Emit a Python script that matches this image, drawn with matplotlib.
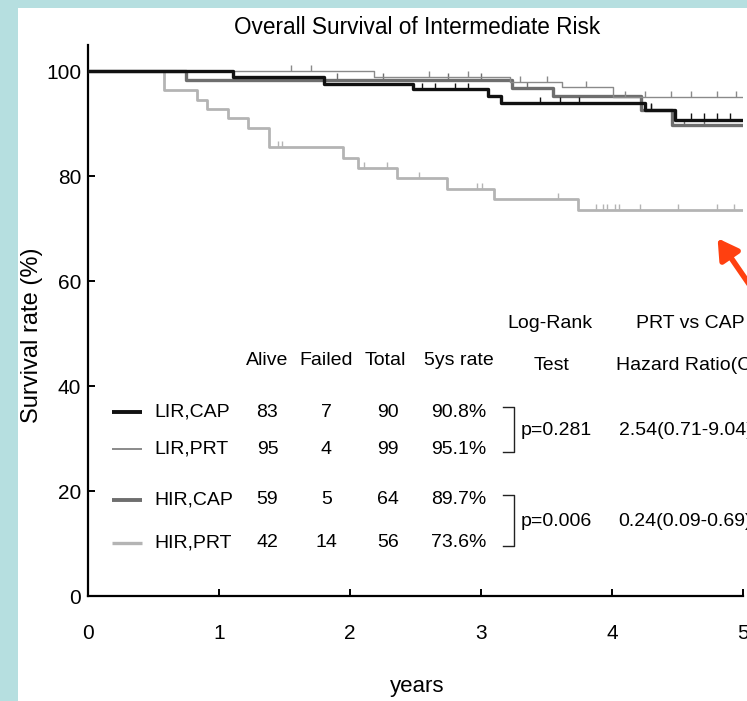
import numpy as np
import matplotlib
matplotlib.use("Agg")
import matplotlib.pyplot as plt
from matplotlib.patches import Rectangle, FancyArrowPatch

plt.rcParams['font.family'] = ['Liberation Sans', 'DejaVu Sans']

# Kaplan-Meier steps (time in years, survival %)
lir_cap_t = [0, 1.11, 1.80, 2.48, 3.05, 3.15, 4.25, 4.48, 5]
lir_cap_s = [100, 98.9, 97.5, 96.6, 95.3, 94.0, 92.7, 90.8, 90.8]
lir_prt_t = [0, 2.18, 3.22, 3.62, 4.01, 5]
lir_prt_s = [100, 98.9, 98.0, 97.0, 95.1, 95.1]
hir_cap_t = [0, 0.75, 3.24, 3.55, 4.22, 4.46, 5]
hir_cap_s = [100, 98.4, 96.8, 95.2, 92.6, 89.7, 89.7]
hir_prt_t = [0, 0.58, 0.83, 0.91, 1.07, 1.22, 1.38, 1.95, 2.06, 2.36, 2.74, 3.10, 3.74, 5]
hir_prt_s = [100, 96.4, 94.6, 92.8, 91.0, 89.2, 85.6, 83.4, 81.6, 79.6, 77.6, 75.7, 73.6, 73.6]

# censoring marks
lir_cap_c = [2.55, 2.65, 2.8, 2.9, 3.45, 3.6, 3.75, 4.3, 4.6, 4.7, 4.8, 4.9]
lir_prt_c = [1.55, 1.7, 2.6, 2.9, 3.3, 3.5, 3.8, 4.1, 4.25, 4.45, 4.6, 4.8, 4.95]
hir_cap_c = [1.9, 2.25, 2.75, 3.0, 3.35, 4.3, 4.55, 4.7]
hir_prt_c = [1.45, 1.48, 2.11, 2.28, 2.53, 2.97, 3.01, 3.59, 3.88, 3.93, 3.96,
             4.02, 4.05, 4.21, 4.50, 4.80, 4.93]

groups = ["LIR,CAP", "LIR,PRT", "HIR,CAP", "HIR,PRT"]
alive = [83, 95, 59, 42]
failed = [7, 4, 5, 14]
total = [90, 99, 64, 56]
rate5 = ["90.8%", "95.1%", "89.7%", "73.6%"]
p_values = ["p=0.281", "p=0.006"]
hazard = ["2.54(0.71-9.04)", "0.24(0.09-0.69)"]

colors = ["#111111", "#8a8a8a", "#6e6e6e", "#b4b4b4"]
widths = [2.4, 1.0, 2.4, 2.0]

fig = plt.figure(figsize=(7.47, 7.01), dpi=100, facecolor="#b6dfe0")
bg = Rectangle((18 / 747, 0), 1, 1 - 8 / 701, transform=fig.transFigure,
               facecolor="white", edgecolor="none", zorder=-10)
fig.patches.append(bg)
ax = fig.add_axes([88 / 747, 105 / 701, 655 / 747, 551 / 701])
ax.set_facecolor("none")

curves = [(lir_cap_t, lir_cap_s, lir_cap_c), (lir_prt_t, lir_prt_s, lir_prt_c),
          (hir_cap_t, hir_cap_s, hir_cap_c), (hir_prt_t, hir_prt_s, hir_prt_c)]
for i in [3, 2, 1, 0]:
    t, s, c = curves[i]
    ax.step(t, s, where="post", color=colors[i], lw=widths[i], zorder=3 + (3 - i))
    idx = np.searchsorted(t, c, side="right") - 1
    cy = np.array(s)[idx]
    ax.plot(c, cy + 0.6, ls="none", marker="|", ms=5, mew=1.0, color=colors[i],
            zorder=3 + (3 - i))

ax.set_xlim(0, 5)
ax.set_ylim(0, 105)
ax.set_xticks([0, 1, 2, 3, 4, 5])
ax.set_yticks([0, 20, 40, 60, 80, 100])
for s in ["top", "right"]:
    ax.spines[s].set_visible(False)
for s in ["left", "bottom"]:
    ax.spines[s].set_linewidth(1.6)
ax.tick_params(direction="in", length=5, width=1.4, labelsize=15)
ax.tick_params(axis="x", pad=20)
ax.tick_params(axis="y", pad=5)
ax.set_xlabel("years", fontsize=16)
ax.xaxis.set_label_coords(0.502, -0.145)
ax.set_ylabel("Survival rate (%)", fontsize=17)
ax.yaxis.set_label_coords(-0.068, 0.474)

fig.text(417 / 747, 1 - 27 / 701, "Overall Survival of Intermediate Risk",
         ha="center", va="center", fontsize=16.3)

# table inside plot
fs = 14
ax.text(3.53, 52.0, "Log-Rank", ha="center", va="center", fontsize=fs)
ax.text(3.54, 44.0, "Test", ha="center", va="center", fontsize=fs)
ax.text(4.60, 52.0, "PRT vs CAP", ha="center", va="center", fontsize=fs)
ax.text(4.03, 44.0, "Hazard Ratio(CI)", ha="left", va="center", fontsize=fs)
head_x = [1.37, 1.82, 2.27, 2.83]
for hx, h in zip(head_x, ["Alive", "Failed", "Total", "5ys rate"]):
    ax.text(hx, 44.8, h, ha="center", va="center", fontsize=fs)

row_y = [35.0, 28.0, 18.3, 10.1]
for i, g in enumerate(groups):
    y = row_y[i]
    ax.plot([0.18, 0.41], [y, y], color=colors[i], lw=widths[i] + 0.4,
            solid_capstyle="butt", clip_on=False)
    ax.text(0.51, y, g, ha="left", va="center", fontsize=fs)
    ax.text(1.37, y, str(alive[i]), ha="center", va="center", fontsize=fs)
    ax.text(1.82, y, str(failed[i]), ha="center", va="center", fontsize=fs)
    ax.text(2.29, y, str(total[i]), ha="center", va="center", fontsize=fs)
    ax.text(2.83, y, rate5[i], ha="center", va="center", fontsize=fs)

for k in range(2):
    top = row_y[2 * k] + 1.0
    bot = row_y[2 * k + 1] - 0.6
    ax.plot([3.17, 3.25, 3.25, 3.17], [top, top, bot, bot], color="#222222", lw=1.0)
    mid = (row_y[2 * k] + row_y[2 * k + 1]) / 2
    ax.text(3.30, mid, p_values[k], ha="left", va="center", fontsize=fs)
    ax.text(4.05, mid, hazard[k], ha="left", va="center", fontsize=fs)

# red arrow
fig.patches.append(FancyArrowPatch(
    (760 / 747, 1 - 300 / 701), (716 / 747, 1 - 236 / 701), transform=fig.transFigure,
    arrowstyle="-|>,head_length=12,head_width=7", color="#ff4010", lw=4, mutation_scale=1))

fig.savefig("out.png", dpi=100, facecolor=fig.get_facecolor())
